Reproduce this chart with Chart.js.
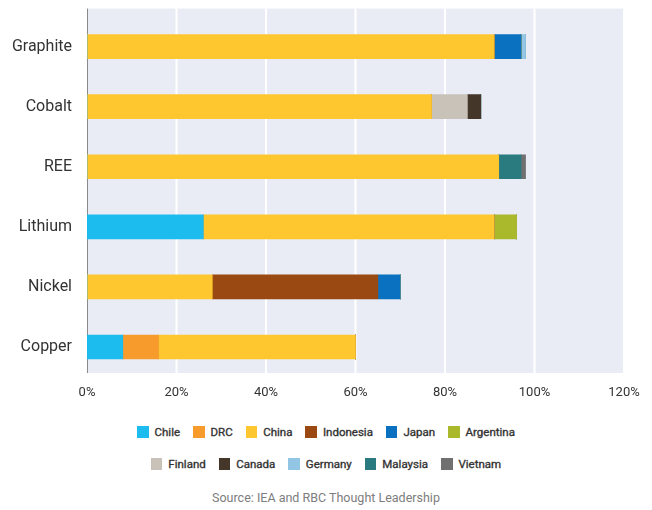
<!DOCTYPE html>
<html>
<head>
<meta charset="utf-8">
<script src="https://cdn.jsdelivr.net/npm/chart.js@4"></script>
<style>
	body { margin: 0; background: #fff; font-family: Roboto, "Open Sans", sans-serif; }
	#wrap { position: relative; width: 652px; height: 510px; overflow: hidden; }
	#chartBox { position: absolute; left: 0; top: -8px; width: 652px; height: 418px; }
	.legendRow { position: absolute; left: 0; width: 652px; display: flex; justify-content: center; gap: 13px; font-size: 11.5px; color: #333; -webkit-text-stroke: 0.35px #333; }
	.legendRow span { display: flex; align-items: center; }
	.legendRow i { display: inline-block; width: 11.5px; height: 12px; margin-right: 6px; }
	#source { position: absolute; left: 0; width: 652px; top: 490px; text-align: center; font-size: 12.5px; color: #7d7d7d; }
</style>
</head>
<body>
<div id="wrap">
	<div id="chartBox"><canvas id="mineralsChart"></canvas></div>
	<div class="legendRow" id="legend1" style="top: 425px"></div>
	<div class="legendRow" id="legend2" style="top: 457px"></div>
	<div id="source">Source: IEA and RBC Thought Leadership</div>
</div>
<script>
const minerals = ["Graphite", "Cobalt", "REE", "Lithium", "Nickel", "Copper"]
const xTicks = [0, 20, 40, 60, 80, 100, 120]

// share of processing, % per mineral
const chile = [0, 0, 0, 26, 0, 8]
const drc = [0, 0, 0, 0, 0, 8]
const china = [91, 77, 92, 65, 28, 44]
const indonesia = [0, 0, 0, 0, 37, 0]
const japan = [6, 0, 0, 0, 5, 0]
const argentina = [0, 0, 0, 5, 0, 0]
const finland = [0, 8, 0, 0, 0, 0]
const canada = [0, 3, 0, 0, 0, 0]
const germany = [1, 0, 0, 0, 0, 0]
const malaysia = [0, 0, 5, 0, 0, 0]
const vietnam = [0, 0, 1, 0, 0, 0]

function Series(label, data, color) {
	this.label = label
	this.data = data
	this.backgroundColor = color
	this.borderWidth = 0
	this.barThickness = 24
}

// plot background, white gridlines and left axis line
const plotBackground = {
	id: "plotBackground",
	beforeDatasetsDraw(chart) {
		const { ctx, chartArea } = chart
		const x = chart.scales.x
		const top = chartArea.top - 8
		const bottom = chartArea.bottom - 4
		ctx.save()
		ctx.fillStyle = "#e9ecf4"
		ctx.fillRect(chartArea.left, top, chartArea.right - chartArea.left, bottom - top)
		ctx.strokeStyle = "#ffffff"
		ctx.lineWidth = 2
		xTicks.slice(1).forEach(v => {
			const px = x.getPixelForValue(v)
			ctx.beginPath()
			ctx.moveTo(px, top)
			ctx.lineTo(px, bottom)
			ctx.stroke()
		})
		ctx.strokeStyle = "#8a8a8a"
		ctx.lineWidth = 1
		ctx.beginPath()
		ctx.moveTo(chartArea.left + 0.5, top)
		ctx.lineTo(chartArea.left + 0.5, bottom)
		ctx.stroke()
		ctx.restore()
	}
}

const mineralsChart = new Chart(
	document.getElementById("mineralsChart"),
	{
		type: "bar",
		data: {
			labels: minerals,
			datasets: [
				new Series("Chile", chile, "#1dbcef"),
				new Series("DRC", drc, "#f69b2c"),
				new Series("China", china, "#fec62f"),
				new Series("Indonesia", indonesia, "#9a4912"),
				new Series("Japan", japan, "#0971c0"),
				new Series("Argentina", argentina, "#aab82c"),
				new Series("Finland", finland, "#c8c2b9"),
				new Series("Canada", canada, "#45362a"),
				new Series("Germany", germany, "#93c6e4"),
				new Series("Malaysia", malaysia, "#2a7b80"),
				new Series("Vietnam", vietnam, "#707070")
			]
		},
		options: {
			indexAxis: "y",
			responsive: true,
			maintainAspectRatio: false,
			animation: false,
			layout: { padding: { top: 8, right: 28, left: 0, bottom: 0 } },
			plugins: {
				legend: { display: false },
				tooltip: { enabled: false }
			},
			scales: {
				x: {
					stacked: true,
					min: 0,
					max: 120,
					afterBuildTicks: scale => { scale.ticks = xTicks.map(v => ({ value: v })) },
					afterFit: scale => { scale.height = 33 },
					grid: { display: false, drawTicks: false },
					border: { display: false },
					ticks: {
						padding: 8,
						color: "#333",
						font: { family: "Roboto", size: 13 },
						callback: v => v + "%"
					}
				},
				y: {
					stacked: true,
					afterFit: scale => { scale.width = 87 },
					grid: { display: false, drawTicks: false },
					border: { display: false },
					ticks: {
						padding: 15,
						color: "#333",
						font: { family: "Roboto", size: 16 }
					}
				}
			}
		},
		plugins: [plotBackground]
	}
)

// legend in two rows, built from the datasets
mineralsChart.data.datasets.forEach((ds, i) => {
	const item = document.createElement("span")
	item.innerHTML = `<i style="background:${ds.backgroundColor}"></i>${ds.label}`
	document.getElementById(i < 6 ? "legend1" : "legend2").appendChild(item)
})
</script>
</body>
</html>
